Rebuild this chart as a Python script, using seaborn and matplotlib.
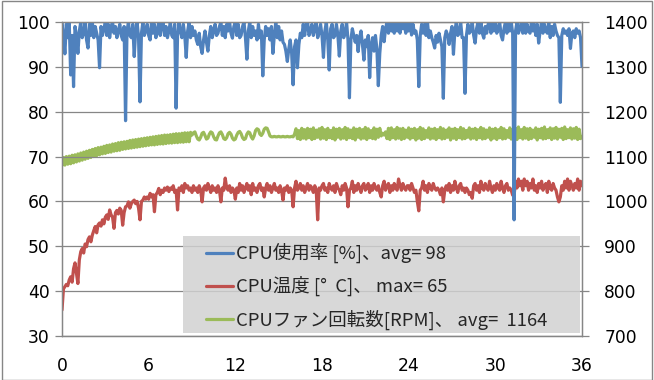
import matplotlib
matplotlib.use("Agg")
import matplotlib.pyplot as plt
import seaborn as sns
import pandas as pd
from matplotlib.lines import Line2D
from matplotlib.patches import Rectangle

# sampling time in hours (one reading every 6 min)
hours = [i * 0.1 for i in range(361)]

# CPU usage [%] (left axis), one row per hour
cpu_usage = [
    100, 97, 92.9, 99.5, 96.5, 100, 88.2, 97, 85.6, 99,
    97, 93, 98, 100, 96.5, 97.5, 100, 96, 94.2, 99.5,
    97, 100, 96.5, 99, 97.5, 96, 89.8, 99, 97, 98.5,
    100, 97, 99.5, 96.5, 99, 100, 97.5, 99, 96.5, 98,
    99.5, 97, 96, 99, 78, 98, 100, 97, 96.5, 99.5,
    92.3, 98, 100, 96.5, 82.2, 97.5, 100, 97, 98, 99.5,
    97, 96, 100, 97.5, 99.5, 96.5, 98, 100, 97, 99.5,
    100, 97, 99, 96.5, 98, 100, 97, 96.5, 99.5, 80.8,
    97, 100, 98, 96.5, 99.5, 97, 92.1, 98, 100, 96.5,
    99, 97, 98, 96, 95, 97.5, 94.5, 93, 96, 98,
    95.5, 93.5, 97, 99, 96.5, 98, 99.5, 97, 97.5, 99,
    100, 97, 99, 96.5, 99.5, 98, 100, 97.5, 96.4, 99,
    100, 97, 99.5, 96.5, 97, 99, 100, 96.5, 91.7, 98,
    100, 96.5, 99, 97, 98, 96, 99.5, 96.5, 98, 88,
    96, 99, 97, 98.5, 96, 99, 93, 97, 100, 96.5,
    99, 96, 98, 95.5, 95, 93.5, 91.2, 94, 96, 93,
    86, 94.5, 96, 89.8, 95, 97.5, 96.5, 99.5, 97, 99.5,
    100, 97, 98, 99.5, 97, 98.5, 100, 96.5, 97.5, 99.5,
    97, 92.1, 98, 100, 96, 89.3, 98.5, 99.5, 96.5, 97,
    99.5, 97, 92.4, 98, 99.5, 96.5, 97.5, 100, 96, 83.1,
    96, 98.5, 97, 95.5, 97, 93.4, 96.5, 98, 95, 91.5,
    96, 94.5, 97, 87.6, 95, 96.5, 93.5, 97, 94, 85.8,
    93, 97, 99, 95.6, 98.5, 100, 97.5, 100, 98, 99.5,
    97.5, 100, 98, 99.5, 97.5, 100, 98.5, 99.5, 97.5, 100,
    98, 100, 97.1, 99.5, 97.5, 98, 96, 85.6, 97, 99.5,
    97.5, 99.5, 97, 100, 96.5, 98, 96.5, 95.5, 94.2, 97,
    95.5, 97.5, 96, 94.5, 83, 96.5, 98, 97, 95, 97.5,
    99, 92.8, 98, 100, 97, 97.5, 100, 96.5, 96.5, 84.1,
    97, 99.5, 97.5, 98, 100, 97, 95.3, 98.5, 100, 97.5,
    100, 97.5, 96.4, 99, 97.5, 99.5, 100, 97.5, 99.5, 98,
    100, 97.5, 98.5, 100, 97, 96, 98.5, 100, 97.5, 99.5,
    98, 100, 97.5, 55.9, 98, 100, 97.5, 98.5, 100, 97.5,
    100, 97.5, 99.5, 98, 97.5, 100, 98, 99.5, 97, 99.5,
    95.3, 98, 100, 97.5, 99.5, 98, 97.5, 100, 96.5, 99,
    97, 99.5, 98, 97, 96.5, 82.1, 97, 98.5, 97.5, 98,
    97, 98.5, 94.1, 97.5, 98, 96.5, 98.5, 97.5, 98, 96.5,
    90.1,
]

# CPU temperature [C] (left axis)
cpu_temp = [
    35.8, 40.5, 41, 41.5, 41.2, 42.5, 43.2, 42, 45, 46.3,
    44, 41.7, 47, 48.8, 49.5, 48.5, 50.5, 49.9, 51.5, 52.1,
    51, 52.5, 53.5, 54.4, 53, 54.8, 55.2, 54.5, 55.9, 55,
    56.5, 57, 56, 58.1, 57, 56.5, 54, 57.5, 58, 57.2,
    58.5, 58, 54.7, 57.5, 58.8, 59, 59.9, 58.5, 59.5, 60,
    60.3, 59.5, 60, 58.5, 55.9, 60, 60.3, 61, 60.5, 61,
    60.5, 61.8, 61, 61.5, 57.7, 61.5, 62, 62.9, 61.5, 62.5,
    62, 63, 62.5, 63.2, 62.2, 63, 62.7, 63.5, 62, 62.5,
    58.1, 63, 62.5, 63.5, 62, 64, 63, 63.5, 62.5, 63,
    62, 63.5, 62.5, 63, 62, 63.5, 62.5, 59.9, 63, 63.5,
    62.5, 64, 63, 62, 63.5, 62.5, 63, 62, 63.5, 62.5,
    59.9, 63, 62.5, 65.2, 63, 62.5, 63.5, 62, 63, 62.5,
    60.5, 63, 62, 64, 62.5, 63.5, 62, 63, 64, 62.5,
    63.5, 61.5, 64, 62.5, 63, 62, 63.5, 64, 62.5, 63,
    61, 63, 64, 62.5, 63.5, 62, 63, 64, 62.5, 63,
    62, 63.5, 62.5, 60.3, 63, 62.5, 63.5, 62, 63, 62.5,
    58.8, 63, 64.5, 62.5, 63, 64, 62.5, 63.5, 62, 63,
    64, 62.5, 63.5, 63, 62, 63.5, 62.5, 55.9, 63, 62.5,
    63.5, 64, 62.5, 63, 62, 64, 63, 62.5, 63.5, 62,
    64, 63, 62.5, 61.5, 63.5, 62.5, 64, 63, 58.8, 62.5,
    63, 64.5, 62, 63.5, 62.5, 64, 63, 62, 63.5, 64,
    62.5, 63, 64, 62, 63.5, 62.5, 64, 63, 62.5, 63.5,
    62, 61, 63.5, 64.5, 62.5, 63.5, 64, 62, 63.5, 62.5,
    64, 63, 62.5, 65, 63.5, 62.5, 64, 63, 62.5, 63.5,
    63.5, 62.5, 64, 63, 62, 62.5, 60, 57.9, 62.5, 63,
    64.5, 62.5, 63.5, 62, 64, 63, 62.5, 64, 63, 62.5,
    63, 62.5, 61.5, 63, 59.9, 62.5, 63.5, 62.5, 64, 62,
    63.5, 62.5, 64.5, 63, 62, 63.5, 64, 62.5, 63, 62,
    63, 62.5, 61.5, 62, 60.7, 63.5, 64, 62.5, 63.5, 62,
    64.5, 63, 62.5, 64, 63, 62.5, 64.5, 63, 62, 63.5,
    62.5, 64, 63, 62.5, 64.5, 63, 62, 63.5, 64, 62.5,
    63, 62.5, 61.4, 61.4, 64.5, 63, 65, 63.5, 64.5, 62.5,
    65, 63.5, 64.5, 62.5, 64, 63, 65, 62.5, 63.5, 62,
    64, 63, 64.5, 62.5, 63.5, 64, 62, 64.5, 63, 62.5,
    64, 63, 62.5, 61, 59.9, 61, 63.5, 62.5, 64.5, 63,
    65, 62.5, 64.5, 63.5, 62.5, 64, 63, 65, 62.5, 64.5,
    63.5,
]

# CPU fan speed [RPM] (right axis)
fan_rpm = [
    1080, 1098, 1081, 1100, 1083, 1101, 1084, 1103, 1086, 1104,
    1088, 1106, 1090, 1108, 1092, 1110, 1094, 1112, 1096, 1114,
    1098, 1116, 1100, 1118, 1102, 1120, 1104, 1121, 1106, 1123,
    1107, 1125, 1109, 1126, 1110, 1128, 1112, 1129, 1113, 1131,
    1114, 1132, 1116, 1133, 1117, 1134, 1118, 1136, 1119, 1137,
    1120, 1138, 1121, 1139, 1122, 1140, 1123, 1141, 1124, 1142,
    1125, 1143, 1126, 1144, 1126, 1145, 1127, 1146, 1128, 1147,
    1128, 1148, 1129, 1148, 1130, 1149, 1130, 1150, 1131, 1151,
    1131, 1151, 1132, 1152, 1132, 1153, 1133, 1153, 1133, 1154,
    1148, 1153, 1155, 1146, 1139, 1137, 1143, 1152, 1154, 1147,
    1139, 1141, 1150, 1155, 1153, 1144, 1138, 1137, 1146, 1153,
    1155, 1149, 1140, 1138, 1142, 1151, 1154, 1150, 1141, 1137,
    1139, 1148, 1154, 1156, 1151, 1142, 1138, 1140, 1150, 1155,
    1153, 1144, 1139, 1146, 1158, 1162, 1160, 1150, 1147, 1152,
    1161, 1164, 1163, 1155, 1146, 1144, 1144, 1145, 1144, 1144,
    1145, 1144, 1144, 1145, 1144, 1144, 1145, 1144, 1144, 1145,
    1144, 1150, 1162, 1140, 1158, 1138, 1163, 1141, 1160, 1139,
    1163, 1142, 1161, 1138, 1164, 1140, 1159, 1143, 1162, 1139,
    1165, 1141, 1160, 1138, 1163, 1142, 1158, 1140, 1164, 1137,
    1161, 1143, 1163, 1139, 1160, 1141, 1165, 1138, 1162, 1142,
    1159, 1140, 1164, 1137, 1161, 1143, 1163, 1139, 1160, 1141,
    1165, 1138, 1162, 1142, 1158, 1140, 1164, 1139, 1161, 1143,
    1163, 1146, 1152, 1148, 1155, 1140, 1163, 1138, 1164, 1142,
    1160, 1139, 1165, 1141, 1162, 1138, 1163, 1140, 1159, 1143,
    1164, 1139, 1161, 1142, 1163, 1137, 1160, 1141, 1165, 1138,
    1162, 1140, 1158, 1143, 1164, 1139, 1161, 1141, 1163, 1138,
    1160, 1142, 1165, 1139, 1162, 1140, 1159, 1143, 1164, 1137,
    1161, 1141, 1163, 1138, 1160, 1142, 1165, 1139, 1162, 1140,
    1158, 1143, 1164, 1139, 1161, 1141, 1163, 1138, 1160, 1142,
    1165, 1139, 1162, 1140, 1159, 1143, 1164, 1137, 1161, 1141,
    1163, 1138, 1160, 1142, 1165, 1139, 1162, 1140, 1158, 1143,
    1164, 1139, 1161, 1141, 1163, 1138, 1166, 1142, 1160, 1139,
    1165, 1141, 1162, 1138, 1163, 1140, 1159, 1143, 1164, 1137,
    1161, 1142, 1163, 1139, 1166, 1140, 1160, 1142, 1164, 1138,
    1162, 1141, 1165, 1139, 1161, 1143, 1163, 1138, 1166, 1140,
    1160, 1142, 1164, 1139, 1162, 1141, 1165, 1138, 1161, 1140,
    1145,
]

series_labels = [
    "CPU使用率 [%]、avg= 98",
    "CPU温度 [°  C]、 max= 65",
    "CPUファン回転数[RPM]、 avg=  1164",
]
x_ticks = [0, 6, 12, 18, 24, 30, 36]
left_ticks = [30, 40, 50, 60, 70, 80, 90, 100]
right_ticks = [700, 800, 900, 1000, 1100, 1200, 1300, 1400]

blue, red, green = "#4F81BD", "#C0504D", "#9BBB59"
grey = "#868686"

df = pd.DataFrame({"hours": hours, "usage": cpu_usage,
                   "temp": cpu_temp, "rpm": fan_rpm})

sns.set_style("white")
plt.rcParams["font.family"] = ["DejaVu Sans"]
plt.rcParams["path.simplify"] = False

fig = plt.figure(figsize=(6.54, 3.8), dpi=100)
ax = fig.add_axes([62 / 654, 44 / 380, 520 / 654, 314 / 380])
ax2 = ax.twinx()
ax.set_zorder(2)
ax.patch.set_visible(False)

sns.lineplot(data=df, x="hours", y="rpm", ax=ax2, color=green, lw=2.3,
             estimator=None, legend=False)
sns.lineplot(data=df, x="hours", y="temp", ax=ax, color=red, lw=2.3,
             estimator=None, legend=False)
sns.lineplot(data=df, x="hours", y="usage", ax=ax, color=blue, lw=2.3,
             estimator=None, legend=False)

ax.set_xlim(0, 36)
ax.set_ylim(30, 100)
ax2.set_ylim(700, 1400)
ax.set_xticks(x_ticks)
ax.set_yticks(left_ticks)
ax2.set_yticks(right_ticks)
ax.set_xlabel("")
ax.set_ylabel("")
ax2.set_ylabel("")

ax.yaxis.grid(True, color=grey, lw=0.9)
ax.xaxis.grid(False)
ax2.grid(False)

for a in (ax, ax2):
    for s in a.spines.values():
        s.set_color(grey)
        s.set_linewidth(0.9)
ax.tick_params(axis="both", direction="out", length=5, width=0.9,
               color=grey, labelsize=12.3, labelcolor="black")
ax.tick_params(axis="x", pad=10)
ax.tick_params(axis="y", pad=4)
ax2.tick_params(axis="y", direction="out", length=5, width=0.9,
                color=grey, labelsize=12.3, labelcolor="black", pad=11)

# legend box (semi transparent so the gridlines show through)
ax.add_patch(Rectangle((0.2327, 0.0096), 0.7635, 0.3089, transform=ax.transAxes,
                       facecolor="#d1d1d1", alpha=0.83, lw=0, zorder=3))
handles = [Line2D([], [], color=c, lw=2.3) for c in (blue, red, green)]
ax.legend(handles, series_labels, loc="upper left",
          bbox_to_anchor=(206 / 654, 1 - 243 / 380), bbox_transform=fig.transFigure,
          frameon=False, handlelength=1.45, handletextpad=0.2,
          labelspacing=0.7, borderpad=0, borderaxespad=0,
          prop={"family": ["Noto Sans CJK JP", "DejaVu Sans"], "size": 13.3})

fig.add_artist(Rectangle((1.5 / 654, 0.5 / 380), 650 / 654, 378.5 / 380,
                         transform=fig.transFigure, fill=False,
                         edgecolor=grey, lw=1))

fig.savefig("out.png", dpi=100)
